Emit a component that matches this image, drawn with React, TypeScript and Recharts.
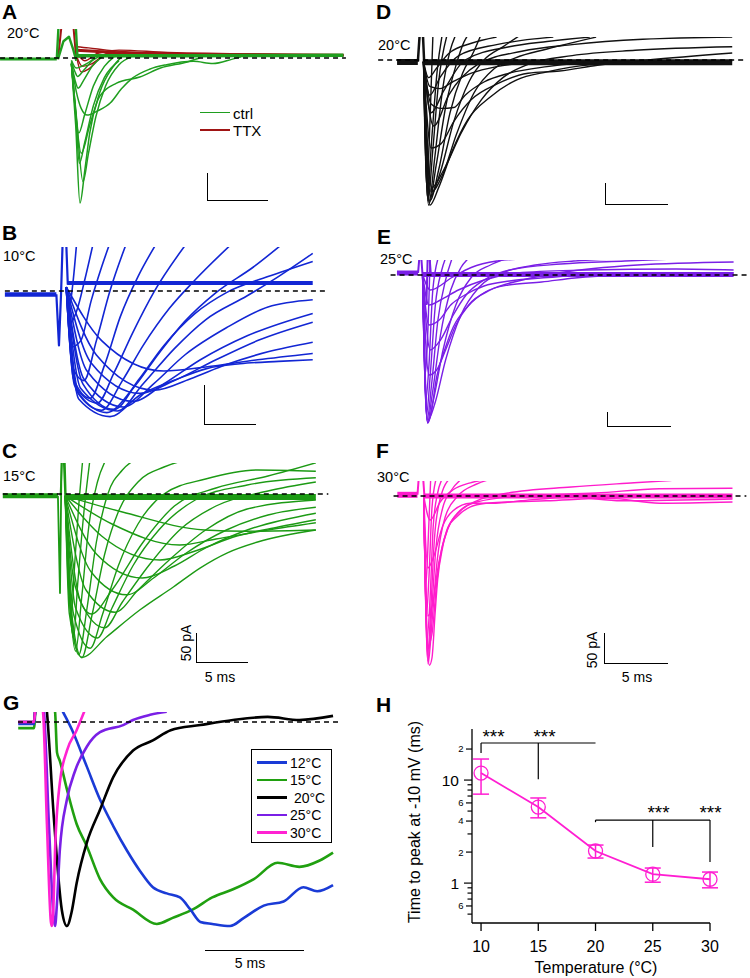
import React from "react";
import { LineChart, Line, XAxis, YAxis, ReferenceLine, ErrorBar } from "recharts";

type Pt = [number, number];
type Box = { left: number; top: number; width: number; height: number; x0: number; y0: number; kx: number; ky: number; dash: [number, number] };
type Trace = { pts: Pt[]; color: string; width: number; linear?: boolean; dashed?: boolean };

const FONT = '"Liberation Sans", Arial, Helvetica, sans-serif';

const GREEN_A = "#1f9e1f";
const RED_A = "#a01414";
const BLUE = "#1226d4";
const GREEN_C = "#1c9a14";
const BLACK = "#111111";
const PURPLE = "#7a1fe6";
const MAGENTA = "#ff1ccc";

// ---------- A: 20°C ctrl vs TTX (ms, pA) ----------
const A_PRE: Pt[] = [[-4.75, -2], [-0.1, -2]];
const A_ART_CTRL: Pt[][] = [
  [[-0.1, -2], [0.05, 60], [1.45, 60], [1.6, 0]],
  [[0, -2], [0.45, 30], [0.9, 38], [1.25, 15], [1.5, -5]],
];
const A_ART_TTX: Pt[][] = [[[0, -2], [0.3, 60], [1.25, 60], [1.5, -3]]];
const A_BAND_CTRL: Pt[] = [[1.5, 4], [10, 4], [23.4, 5]];
const A_BAND_TTX: Pt[] = [[1.5, 14], [3, 12], [6, 8], [12, 6], [23.4, 5]];
const A_CTRL: Pt[][] = [
  [[1.1, -10], [1.45, -120], [1.8, -259], [2.2, -200], [2.6, -134], [3.4, -63], [4.5, -16], [5.2, 2]],
  [[1.1, -10], [1.55, -120], [2.05, -221], [2.5, -170], [3.1, -105], [3.9, -50], [5, -12], [6, 2]],
  [[1.1, -10], [1.45, -100], [1.75, -188], [2.2, -150], [2.9, -85], [3.8, -35], [5, -5]],
  [[1.1, -10], [1.4, -80], [1.7, -134], [2.2, -100], [2.9, -50], [3.8, -15], [4.6, 2]],
  [[1.1, -10], [1.5, -60], [1.9, -90], [2.4, -102], [3.2, -95], [4.3, -80], [5.2, -55], [6.1, -36], [7.5, -20], [8.9, -12], [11.1, -6], [12.7, -10], [14.3, -2], [15, 2]],
  [[1.1, -10], [1.5, -110], [1.9, -170], [2.6, -120], [3.4, -69], [4.8, -45], [6.7, -34], [8.4, -18], [10.6, -7], [11.6, 0]],
  [[1.1, -8], [1.4, -40], [1.65, -54], [2.1, -40], [2.8, -15], [3.6, 2]],
  [[1.1, -6], [1.4, -25], [1.6, -33], [2.1, -22], [2.8, -5], [3.4, 3]],
  [[1.1, -4], [1.5, -18], [2.2, -12], [3, 0]],
];
const A_TTX: Pt[][] = [
  [[1.5, 5], [1.9, -25], [2.5, -20], [3.2, -5], [4, 8], [6, 10], [10, 7], [23.4, 4]],
  [[1.5, 5], [2.0, -15], [2.8, -10], [3.6, 2], [5, 10], [8, 8], [23.4, 5]],
  [[1.5, 10], [2.2, -5], [3.2, 8], [5, 14], [9, 10], [23.4, 6]],
  [[1.5, 20], [2.5, 18], [4, 14], [8, 9], [23.4, 5]],
];

// ---------- B: 10°C ----------
const B_PRE: Pt[] = [[-5.3, -4.5], [-0.35, -4.5]];
const B_ART: Pt[] = [[-0.35, -4], [-0.1, -68], [0.1, -4], [0.25, 60], [0.6, 60], [0.75, 8]];
const B_BAND: Pt[] = [[0.7, 10], [24.3, 10]];
const B_TRACES: Pt[][] = [
  [[0.6, 5], [0.9, -20], [1.2, 5], [1.6, 60]],
  [[0.6, 5], [1.0, -40], [1.6, -25], [2.4, 15], [3.2, 60]],
  [[0.6, 5], [1.1, -70], [2.0, -62], [3.0, -12], [4.0, 30], [4.8, 60]],
  [[0.6, 5], [1.2, -95], [2.3, -112], [3.5, -62], [4.8, 0], [6.4, 60]],
  [[0.6, 5], [1.3, -110], [2.9, -134], [4.3, -92], [5.8, -32], [7.5, 18], [9.3, 60]],
  [[0.6, 5], [1.4, -118], [3.6, -140], [5.2, -102], [7, -52], [9, -2], [12.2, 60]],
  [[0.6, 5], [1.6, -125], [4.0, -149], [6, -112], [8, -68], [10.5, -22], [13, 14], [16.6, 60]],
  [[0.6, 5], [1.8, -128], [4.5, -152], [7, -122], [9.5, -78], [12, -38], [15, -2], [18.6, 30], [21.5, 60]],
  [[0.6, 5], [2, -122], [5.5, -150], [8, -116], [11, -72], [14, -36], [18, -6], [21, 18], [24.3, 47]],
  [[0.6, 5], [2.2, -116], [5.2, -148], [7.5, -112], [10, -68], [13, -28], [16, -2], [20, 18], [24.3, 37]],
  [[0.6, 5], [2.3, -110], [6.1, -145], [9, -116], [12, -80], [16, -46], [20, -20], [24.3, -11]],
  [[0.6, 5], [2.6, -100], [7, -138], [10, -116], [13.5, -86], [18, -56], [24.3, -28]],
  [[0.6, 5], [3, -90], [7.7, -128], [11, -112], [15, -86], [19, -62], [24.3, -39]],
  [[0.6, 5], [3.5, -80], [9.1, -124], [12.5, -110], [16, -92], [20, -76], [24.3, -64]],
  [[0.6, 5], [4, -62], [10, -100], [14, -95], [19, -86], [24.3, -78]],
  [[0.6, 5], [1.8, -135], [4.8, -157], [7.7, -130], [10.9, -112], [14.1, -97], [17.3, -91], [21, -88], [24.3, -86]],
];

// ---------- C: 15°C ----------
const C_PRE: Pt[] = [[-5.5, -3], [-0.2, -3]];
const C_ART: Pt[][] = [
  [[-0.2, -3], [0, -165], [0.15, 60], [0.35, 60], [0.5, -3]],
  [[0.05, -3], [0.2, 60], [0.45, 60], [0.55, 0]],
];
const C_BAND: Pt[] = [[0.5, -5], [24.6, -5]];
const C_TRACES: Pt[][] = [
  [[0.5, -3], [0.8, -150], [1.1, -200], [1.4, -120], [1.8, -20], [2.2, 60]],
  [[0.5, -3], [0.9, -170], [1.3, -240], [1.7, -150], [2.3, -30], [2.9, 60]],
  [[0.5, -3], [1.0, -190], [1.5, -262], [2.1, -170], [2.8, -50], [3.6, 20], [4.5, 60]],
  [[0.5, -3], [1.1, -200], [1.8, -268], [2.6, -190], [3.5, -80], [4.6, 0], [6, 40], [7.5, 60]],
  [[0.5, -3], [1.2, -210], [2.1, -273], [3.1, -200], [4.3, -100], [5.6, -30], [7.5, 20], [10, 45], [13, 60]],
  [[0.5, -3], [1.3, -200], [2.9, -257], [4.1, -200], [5.6, -120], [7.5, -50], [10, 0], [14, 25], [19, 40], [24.6, 38]],
  [[0.5, -3], [1.5, -190], [3.6, -240], [5, -190], [7, -120], [9.5, -60], [13, -10], [18, 15], [24.6, 27]],
  [[0.5, -3], [2, -180], [4.3, -223], [6, -180], [8.5, -120], [11.5, -60], [15, -20], [20, 5], [24.6, 20]],
  [[0.5, -3], [2.5, -160], [5.3, -197], [7.5, -160], [10.5, -110], [14, -60], [18, -25], [24.6, -10]],
  [[0.5, -3], [3, -130], [6.4, -168], [9, -140], [12, -100], [16, -60], [20, -35], [24.6, -22]],
  [[0.5, -3], [3.5, -100], [7.9, -140], [11, -120], [14, -90], [18, -60], [24.6, -32]],
  [[0.5, -3], [4, -70], [9.6, -110], [13, -95], [17, -70], [21, -55], [24.6, -43]],
  [[0.5, -3], [5, -50], [11.5, -85], [15, -75], [20, -60], [24.6, -48]],
  [[0.5, -3], [6, -30], [13.9, -60], [18, -62], [24.6, -60]],
  [[0.5, -3], [0.9, -200], [2.1, -272], [4.5, -238], [7.7, -193], [10.9, -155], [13.5, -123], [16.1, -98], [19, -80], [24.6, -60]],
  [[0.5, -3], [1.4, -150], [3, -200], [5, -160], [8, -80], [11, -20], [15, 10], [20, 30], [24.6, 52]],
];

// ---------- D: 20°C ----------
const D_PRE: Pt[] = [[-1.9, -4.5], [-0.25, -4.5]];
const D_ART: Pt[] = [[-0.25, -4], [-0.1, 60], [0.15, 60], [0.25, -4]];
const D_BAND: Pt[] = [[0.15, -5], [24.7, -5]];
const D_TRACES: Pt[][] = [
  [[0.2, -4], [0.45, -290], [0.7, -150], [0.95, 60]],
  [[0.2, -4], [0.5, -310], [0.85, -180], [1.3, -20], [1.7, 60]],
  [[0.2, -4], [0.55, -320], [0.95, -200], [1.4, -50], [2.1, 60]],
  [[0.2, -4], [0.6, -330], [1.1, -220], [1.7, -70], [2.3, 20], [2.8, 60]],
  [[0.2, -4], [0.65, -325], [1.2, -240], [2, -100], [2.8, -10], [3.4, 40], [3.8, 60]],
  [[0.2, -4], [0.7, -320], [1.4, -250], [2.3, -120], [3.3, -30], [4.2, 20], [4.8, 60]],
  [[0.2, -4], [0.75, -310], [1.5, -258], [2.6, -140], [3.8, -50], [5, 0], [6.5, 30], [7.8, 55]],
  [[0.2, -4], [0.8, -300], [1.7, -262], [2.8, -170], [4.2, -75], [5.8, -20], [7.5, 5], [10, 25], [13.9, 52]],
  [[0.2, -4], [0.85, -290], [1.8, -250], [3.2, -165], [4.8, -90], [6.5, -40], [8.5, -10], [12, 10], [17, 22], [24.7, 30]],
  [[0.2, -4], [0.7, -330], [1.4, -290], [2.5, -205], [3.7, -136], [5.5, -84], [7.6, -45], [10, -27], [13.4, -11], [18, -5], [24.7, -2]],
  [[0.2, -4], [0.8, -100], [1.6, -110], [2.6, -108], [3.5, -80], [5, -50], [7, -30], [10, -15], [14, -5], [18, -4]],
  [[0.2, -4], [0.8, -200], [1.6, -190], [2.6, -140], [4, -90], [6, -55], [8.5, -30], [11, -25], [14, -12], [18, 0], [24.7, 16]],
  [[0.2, -4], [0.7, -60], [1.5, -65], [2.5, -50], [4, -30], [6, -15], [9, -5]],
  [[0.2, -4], [0.6, -40], [1.2, -20], [2.2, 15], [4, 38], [6, 52]],
  [[0.2, -4], [0.7, -80], [1.5, -40], [3, 10], [6, 35], [9, 48], [10.5, 52]],
  [[0.2, -4], [0.8, -120], [1.8, -70], [3.5, 0], [7, 30], [10, 42], [13.4, 52]],
  [[0.2, -4], [1, -150], [2.2, -80], [4.5, -10], [8, 20], [12, 35], [17.6, 47], [24.7, 52]],
];

// ---------- E: 25°C ----------
const E_PRE: Pt[] = [[-1.8, 4], [-0.15, 4]];
const E_ART: Pt[][] = [
  [[-0.15, 4], [-0.05, 35], [0.1, 35], [0.2, 0]],
  [[0.5, -60], [0.6, 35], [0.75, 35], [0.85, 0]],
];
const E_BAND: Pt[] = [[0.2, 1], [24.5, 1]];
const E_TRACES: Pt[][] = [
  [[0.2, 2], [0.4, -200], [0.55, -150], [0.8, 40]],
  [[0.2, 2], [0.45, -250], [0.7, -180], [1.0, -30], [1.5, 40]],
  [[0.2, 2], [0.5, -280], [0.8, -200], [1.2, -60], [1.7, 10], [2.1, 40]],
  [[0.2, 2], [0.55, -290], [0.9, -220], [1.4, -90], [2.0, -10], [2.6, 40]],
  [[0.2, 2], [0.58, -295], [0.95, -240], [1.6, -120], [2.4, -30], [3.2, 15], [4.1, 40]],
  [[0.2, 2], [0.6, -296], [1.05, -250], [1.8, -150], [2.8, -60], [4, -5], [5.5, 20], [7, 35]],
  [[0.2, 2], [0.62, -290], [1.15, -258], [2, -170], [3.2, -80], [4.6, -25], [6.5, 5], [9, 20], [12, 28], [16, 32]],
  [[0.2, 2], [0.6, -296], [0.8, -284], [1.3, -204], [2.0, -144], [2.6, -104], [3.7, -64], [5.1, -34], [6.9, -20], [9.5, -14], [12.1, -6], [16, 0], [24.5, 4]],
  [[0.2, 2], [0.7, -200], [1.3, -190], [2.0, -150], [2.8, -100], [3.8, -60], [5.5, -30], [8, -10], [11, 5], [17, 20], [24.5, 26]],
  [[0.2, 2], [0.7, -100], [1.5, -90], [2.4, -60], [3.5, -40], [5, -22], [7, -12], [10, -5], [14, 2]],
  [[0.2, 2], [0.7, -60], [1.6, -50], [3, -30], [5, -10], [8, 5], [13, 10], [20, 12], [24.5, 10]],
  [[0.2, 2], [0.8, -30], [2.5, -5], [4, 15], [6, 28], [8, 32]],
  [[0.2, 2], [0.8, -150], [1.6, -130], [2.6, -80], [3.6, -40], [5, -10], [7, 10], [11, 22], [16, 28], [20, 32]],
];

// ---------- F: 30°C ----------
const F_PRE: Pt[] = [[-1.8, 2], [-0.2, 2]];
const F_ART: Pt[] = [[-0.2, 2], [-0.1, 30], [0.25, 30], [0.35, 0]];
const F_BAND: Pt[] = [[0.3, 0], [24.8, 0]];
const F_TRACES: Pt[][] = [
  [[0.3, 0], [0.45, -150], [0.6, -100], [0.85, 30]],
  [[0.3, 0], [0.5, -200], [0.7, -140], [0.95, -20], [1.3, 30]],
  [[0.3, 0], [0.55, -240], [0.8, -170], [1.05, -50], [1.4, 5], [1.8, 30]],
  [[0.3, 0], [0.6, -265], [0.85, -190], [1.15, -70], [1.6, -5], [2.4, 30]],
  [[0.3, 0], [0.62, -275], [0.9, -200], [1.25, -90], [1.8, -20], [2.5, 10], [3.4, 30]],
  [[0.3, 0], [0.64, -280], [0.95, -210], [1.35, -110], [2.0, -35], [3, 0], [4.5, 20], [6, 30]],
  [[0.3, 0], [0.6, -250], [0.75, -282], [0.95, -270], [1.2, -195], [1.4, -140], [1.8, -85], [2.2, -53], [2.9, -35], [4.0, -18], [5.3, -12], [6.9, -10], [10, -8], [15, -4], [19, -12], [24.8, -10]],
  [[0.3, 0], [0.62, -250], [0.95, -230], [1.3, -150], [1.7, -90], [2.3, -50], [3.2, -25], [4.5, -8], [7, 5], [12, 15], [17, 22], [20, 26]],
  [[0.3, 0], [0.62, -200], [1.0, -180], [1.5, -110], [2.2, -55], [3, -28], [4.5, -10], [8, 0], [14, 5], [19, 12], [24.8, 13]],
  [[0.3, 0], [0.62, -120], [1.1, -100], [1.8, -50], [2.6, -25], [4, -12], [6, -12], [8, -8], [12, -2], [16, -8], [24.8, -5]],
  [[0.3, 0], [0.8, -40], [1.6, -10], [2.6, 10], [4, 22], [5.5, 28]],
];

// ---------- G: normalised traces (ms, I/Imax) ----------
const G_12: Pt[] = [[-1.1, -0.01], [-0.3, -0.01], [-0.2, 0.1], [0.9, 0.1], [1.16, 0.05], [1.67, -0.05], [2.37, -0.22], [3.03, -0.38], [3.7, -0.51], [4.39, -0.63], [5.05, -0.73], [5.7, -0.81], [6.4, -0.84], [7.07, -0.86], [7.6, -0.92], [8.1, -0.98], [8.7, -0.99], [9.6, -1.0], [10.3, -0.96], [11.3, -0.9], [12.3, -0.88], [13.3, -0.81], [14, -0.83], [14.8, -0.8]];
const G_15: Pt[] = [[-1.1, -0.03], [-0.3, -0.03], [-0.2, 0.1], [0.6, 0.1], [0.76, 0.05], [0.86, -0.15], [1.0, -0.19], [1.36, -0.33], [1.85, -0.5], [2.37, -0.61], [3.03, -0.77], [3.7, -0.86], [4.7, -0.92], [5.9, -0.99], [6.7, -0.96], [7.7, -0.92], [8.7, -0.86], [9.75, -0.82], [10.8, -0.77], [12, -0.69], [13.1, -0.71], [14.1, -0.68], [14.8, -0.64]];
const G_20: Pt[] = [[-1.1, 0], [-0.3, 0], [-0.2, 0.1], [0.3, 0.1], [0.35, 0.05], [0.7, -0.47], [1.1, -0.92], [1.36, -1.0], [1.6, -0.93], [1.85, -0.79], [2.37, -0.59], [3.03, -0.43], [3.7, -0.27], [4.7, -0.14], [5.7, -0.09], [6.6, -0.04], [8.1, -0.015], [9.75, 0.01], [11.5, 0.025], [13.1, 0.01], [14.8, 0.03]];
const G_25: Pt[] = [[-1.1, 0], [-0.3, 0], [-0.2, 0.1], [0.1, 0.1], [0.2, 0.05], [0.45, -0.5], [0.7, -0.97], [0.76, -1], [0.85, -0.9], [1.0, -0.63], [1.36, -0.38], [1.77, -0.24], [2.37, -0.12], [3.03, -0.05], [4.2, -0.015], [4.7, 0.01], [5.56, 0.035], [6.4, 0.05]];
const G_30: Pt[] = [[-1.1, 0], [-0.3, 0], [-0.2, 0.1], [0.0, 0.1], [0.15, 0.05], [0.35, -0.5], [0.55, -0.98], [0.6, -1], [0.68, -0.9], [0.76, -0.63], [1.0, -0.3], [1.36, -0.14], [1.85, -0.04], [2.27, 0.06]];
const G_LABELS = ["12°C", "15°C", " 20°C", "25°C", "30°C"];
const G_COLORS = ["#1a3bd6", "#20a010", "#000000", PURPLE, "#ff22d2"];

// ---------- H: time to peak vs temperature ----------
const H_TEMP = [10, 15, 20, 25, 30];
const H_MEAN = [11.7, 5.47, 2.05, 1.22, 1.09];
const H_HIGH = [16, 6.7, 2.34, 1.4, 1.28];
const H_LOW = [7.3, 4.3, 1.75, 1.02, 0.9];
const H_YTICKS = [0.5, 0.6, 0.7, 0.8, 0.9, 1, 2, 3, 4, 5, 6, 7, 8, 9, 10, 20];
const H_YLABELS: Record<string, string> = { "0.6": "6", "1": "1", "2": "2", "4": "4", "6": "6", "10": "10", "20": "2" };
const H_BRACKETS: [Pt, Pt][] = [
  [[10, 22.9], [20, 22.9]], [[10, 22.9], [10, 18.3]], [[15, 22.9], [15, 10.2]],
  [[20, 4.09], [30, 4.09]], [[20, 4.09], [20, 3.9]], [[25, 4.09], [25, 2.24]], [[30, 4.09], [30, 1.6]],
];

const BOX_A: Box = { left: 0, top: 29, width: 346, height: 181, x0: 58, y0: 58, kx: 12.2, ky: 0.56, dash: [-4.75, 23.6] };
const BOX_B: Box = { left: 0, top: 247, width: 328, height: 180, x0: 60, y0: 291, kx: 10.4, ky: 0.8, dash: [-5.3, 25.5] };
const BOX_C: Box = { left: 0, top: 463, width: 330, height: 205, x0: 60, y0: 494, kx: 10.4, ky: 0.6, dash: [-5.5, 25.8] };
const BOX_D: Box = { left: 376, top: 37, width: 374, height: 175, x0: 421, y0: 60, kx: 12.6, ky: 0.44, dash: [-3.4, 25.7] };
const BOX_E: Box = { left: 376, top: 260, width: 374, height: 170, x0: 420, y0: 275, kx: 12.8, ky: 0.5, dash: [-2.3, 25.7] };
const BOX_F: Box = { left: 376, top: 481, width: 374, height: 190, x0: 420, y0: 496, kx: 12.6, ky: 0.6, dash: [-2.1, 25.9] };
const BOX_G: Box = { left: 16, top: 712, width: 326, height: 218, x0: 40, y0: 722, kx: 19.8, ky: 204, dash: [-1.11, 15.15] };

const many = (list: Pt[][], color: string, width: number): Trace[] => list.map((pts) => ({ pts, color, width }));

function TracePanel({ box, traces }: { box: Box; traces: Trace[] }) {
  const tMin = (box.left - box.x0) / box.kx;
  const tMax = (box.left + box.width - box.x0) / box.kx;
  const iMax = (box.y0 - box.top) / box.ky;
  const iMin = (box.y0 - box.top - box.height) / box.ky;
  const all: Trace[] = [...traces, { pts: [[box.dash[0], 0], [box.dash[1], 0]], color: "#000", width: 1.3, linear: true, dashed: true }];
  return (
    <div style={{ position: "absolute", left: box.left, top: box.top }}>
      <LineChart width={box.width} height={box.height} margin={{ top: 0, right: 0, bottom: 0, left: 0 }}>
        <XAxis type="number" dataKey="t" domain={[tMin, tMax]} allowDataOverflow hide />
        <YAxis type="number" domain={[iMin, iMax]} allowDataOverflow hide />
        {all.map((s, k) => (
          <Line
            key={k}
            data={s.pts.map(([t, v]) => ({ t, v }))}
            dataKey="v"
            type={s.linear ? "linear" : "monotone"}
            stroke={s.color}
            strokeWidth={s.width}
            strokeDasharray={s.dashed ? "5 4" : undefined}
            strokeLinejoin="round"
            dot={false}
            activeDot={false}
            isAnimationActive={false}
          />
        ))}
      </LineChart>
    </div>
  );
}

function Txt({ x, y, size = 14.5, bold = false, anchor = "start", rotate = 0, children }: any) {
  const tx = anchor === "middle" ? "-50%" : anchor === "end" ? "-100%" : "0";
  return (
    <div
      style={{
        position: "absolute", left: x, top: y, fontFamily: FONT, fontSize: size, fontWeight: bold ? 700 : 400,
        lineHeight: 1, whiteSpace: "pre", color: "#000",
        transform: `translate(${tx}, -50%)${rotate ? ` rotate(${rotate}deg)` : ""}`,
      }}
    >
      {children}
    </div>
  );
}

function ScaleBar({ x, y, w, h }: { x: number; y: number; w: number; h: number }) {
  return <div style={{ position: "absolute", left: x, top: y, width: w, height: h, borderLeft: h ? "1.4px solid #000" : "none", borderBottom: "1.4px solid #000", boxSizing: "border-box" }} />;
}

const HYTick = (props: any) => {
  const { x, y, payload } = props;
  const v = payload.value;
  const lab = H_YLABELS[String(v)];
  const major = v === 1 || v === 10;
  const len = major ? 8 : lab ? 6 : 4.5;
  return (
    <g>
      <line x1={x - len} x2={x} y1={y} y2={y} stroke="#000" strokeWidth={1.2} />
      {lab && (
        <text x={x - (major ? 13 : 8.5)} y={y} dy="0.36em" textAnchor="end" fontSize={major ? 15.5 : 9.5} fontFamily={FONT} fill="#000">
          {lab}
        </text>
      )}
    </g>
  );
};

function PanelH() {
  const data = H_TEMP.map((t, i) => ({ t, m: H_MEAN[i], err: [H_MEAN[i] - H_LOW[i], H_HIGH[i] - H_MEAN[i]] }));
  const mag = "#ff1ed2";
  return (
    <div style={{ position: "absolute", left: 375, top: 715 }}>
      <LineChart width={375} height={263} data={data} margin={{ top: 14, right: 40, bottom: 25, left: 0 }}>
        <XAxis
          dataKey="t" type="number" domain={[9.21, 30]} ticks={H_TEMP} tickSize={8} tickMargin={10} height={30}
          stroke="#000" strokeWidth={1.3} tick={{ fontSize: 16, fill: "#000", fontFamily: FONT }}
        />
        <YAxis
          type="number" scale="log" domain={[0.41, 31.3]} ticks={H_YTICKS} width={97} tickSize={0} tickMargin={0}
          tickLine={false} stroke="#000" strokeWidth={1.3} tick={<HYTick />} interval={0}
        />
        {H_BRACKETS.map(([a, b], k) => (
          <ReferenceLine key={k} segment={[{ x: a[0], y: a[1] }, { x: b[0], y: b[1] }]} stroke="#000" strokeWidth={1.2} ifOverflow="visible" />
        ))}
        <Line dataKey="m" stroke={mag} strokeWidth={1.8} dot={{ r: 7, fill: "none", stroke: mag, strokeWidth: 1.3 }} activeDot={false} isAnimationActive={false}>
          <ErrorBar dataKey="err" width={8} stroke={mag} strokeWidth={1.5} direction="y" />
        </Line>
      </LineChart>
    </div>
  );
}

export default function App() {
  const seriesA: Trace[] = [
    { pts: A_PRE, color: GREEN_A, width: 3 },
    { pts: A_BAND_TTX, color: RED_A, width: 3 },
    ...many(A_TTX, RED_A, 1.4),
    ...A_ART_TTX.map((pts) => ({ pts, color: RED_A, width: 2, linear: true })),
    { pts: A_BAND_CTRL, color: GREEN_A, width: 3.5 },
    ...A_ART_CTRL.map((pts) => ({ pts, color: GREEN_A, width: 2.4, linear: true })),
    ...many(A_CTRL, GREEN_A, 1.5),
  ];
  const seriesB: Trace[] = [
    { pts: B_PRE, color: BLUE, width: 4.5 },
    { pts: B_ART, color: BLUE, width: 2.2, linear: true },
    { pts: B_BAND, color: BLUE, width: 4 },
    ...many(B_TRACES, BLUE, 1.6),
  ];
  const seriesC: Trace[] = [
    { pts: C_PRE, color: GREEN_C, width: 5 },
    ...C_ART.map((pts) => ({ pts, color: GREEN_C, width: 1.8, linear: true })),
    { pts: C_BAND, color: GREEN_C, width: 6 },
    ...many(C_TRACES, GREEN_C, 1.4),
  ];
  const seriesD: Trace[] = [
    { pts: D_PRE, color: BLACK, width: 6 },
    { pts: D_ART, color: BLACK, width: 2.5, linear: true },
    { pts: D_BAND, color: BLACK, width: 6 },
    ...many(D_TRACES, BLACK, 1.4),
  ];
  const seriesE: Trace[] = [
    { pts: E_PRE, color: PURPLE, width: 5 },
    ...E_ART.map((pts) => ({ pts, color: PURPLE, width: 2, linear: true })),
    { pts: E_BAND, color: PURPLE, width: 5 },
    ...many(E_TRACES, PURPLE, 1.4),
  ];
  const seriesF: Trace[] = [
    { pts: F_PRE, color: MAGENTA, width: 6 },
    { pts: F_ART, color: MAGENTA, width: 2, linear: true },
    { pts: F_BAND, color: MAGENTA, width: 5 },
    ...many(F_TRACES, MAGENTA, 1.4),
  ];
  const seriesG: Trace[] = [G_15, G_12, G_20, G_25, G_30].map((pts, i) => ({
    pts, color: G_COLORS[[1, 0, 2, 3, 4][i]], width: 2.6,
  }));

  return (
    <div style={{ position: "absolute", left: 0, top: 0, width: 750, height: 978, background: "#fff", overflow: "hidden" }}>
      <TracePanel box={BOX_A} traces={seriesA} />
      <TracePanel box={BOX_B} traces={seriesB} />
      <TracePanel box={BOX_C} traces={seriesC} />
      <TracePanel box={BOX_D} traces={seriesD} />
      <TracePanel box={BOX_E} traces={seriesE} />
      <TracePanel box={BOX_F} traces={seriesF} />
      <TracePanel box={BOX_G} traces={seriesG} />
      <PanelH />

      {["A", "B", "C", "D", "E", "F", "G", "H"].map((l, i) => (
        <Txt key={l} x={[2, 2, 2, 376, 377, 376, 3, 376][i]} y={[11, 232, 450, 11, 236, 450, 702, 704][i]} size={21} bold>
          {l}
        </Txt>
      ))}
      <Txt x={7} y={33}>20°C</Txt>
      <Txt x={3} y={256}>10°C</Txt>
      <Txt x={3} y={476}>15°C</Txt>
      <Txt x={378} y={45}>20°C</Txt>
      <Txt x={380} y={259}>25°C</Txt>
      <Txt x={377} y={477}>30°C</Txt>

      {/* A legend */}
      <div style={{ position: "absolute", left: 200, top: 111.5, width: 30, height: 1.5, background: GREEN_A }} />
      <div style={{ position: "absolute", left: 200, top: 129, width: 30, height: 1.5, background: RED_A }} />
      <Txt x={233} y={113} size={15}>ctrl</Txt>
      <Txt x={233} y={129.5} size={15}>TTX</Txt>

      {/* scale bars */}
      <ScaleBar x={207} y={173} w={61} h={28} />
      <ScaleBar x={204} y={385} w={52} h={40} />
      <ScaleBar x={196} y={633} w={52} h={30} />
      <ScaleBar x={605} y={183} w={63} h={22} />
      <ScaleBar x={607} y={412} w={64} h={15} />
      <ScaleBar x={604} y={633} w={64} h={31} />
      <ScaleBar x={205} y={950} w={99} h={0} />
      <Txt x={186} y={643} size={14} anchor="middle" rotate={-90}>50 pA</Txt>
      <Txt x={220} y={677} size={14} anchor="middle">5 ms</Txt>
      <Txt x={592} y={650} size={14} anchor="middle" rotate={-90}>50 pA</Txt>
      <Txt x={637} y={677} size={14} anchor="middle">5 ms</Txt>
      <Txt x={250} y={963} size={14} anchor="middle">5 ms</Txt>

      {/* G legend */}
      <div style={{ position: "absolute", left: 251, top: 749, width: 81, height: 94, border: "1.3px solid #000", boxSizing: "border-box", background: "#fff" }} />
      {G_LABELS.map((lab, i) => (
        <React.Fragment key={lab}>
          <div style={{ position: "absolute", left: 257, top: 761 + i * 17.6, width: 30, height: 2.6, background: G_COLORS[i] }} />
          <Txt x={290} y={762.5 + i * 17.6} size={14}>{lab}</Txt>
        </React.Fragment>
      ))}

      {/* H annotations */}
      <Txt x={493.5} y={736} size={19} anchor="middle">***</Txt>
      <Txt x={544.5} y={736} size={19} anchor="middle">***</Txt>
      <Txt x={658.5} y={812} size={19} anchor="middle">***</Txt>
      <Txt x={710.5} y={812} size={19} anchor="middle">***</Txt>
      <Txt x={415} y={822} size={16} anchor="middle" rotate={-90}>Time to peak at -10 mV (ms)</Txt>
      <Txt x={596} y={968} size={16} anchor="middle">Temperature (°C)</Txt>
    </div>
  );
}
